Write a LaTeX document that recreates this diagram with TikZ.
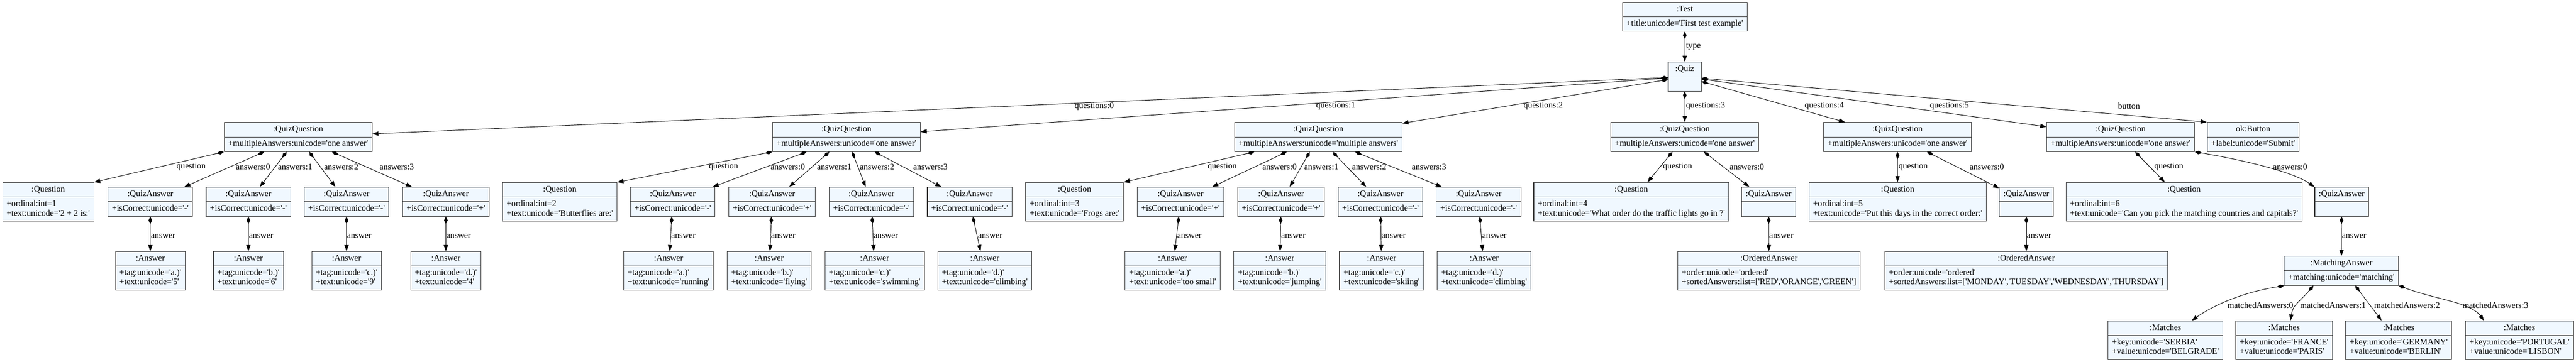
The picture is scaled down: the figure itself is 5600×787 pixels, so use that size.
\documentclass[tikz,border=0pt]{standalone}
\usepackage{fontspec}
\newfontfamily\dotfont{Liberation Serif}
\usetikzlibrary{shapes.multipart}
\usetikzlibrary{arrows.meta}
\usetikzlibrary{calc}
\definecolor{aliceblue}{RGB}{240,248,255}
\newcommand{\twolines}[2]{\begin{tabular}{@{}l@{}}#1\\#2\end{tabular}}

\begin{document}
\begin{tikzpicture}[x=0.75pt,y=-0.75pt,
  obj/.style={rectangle split, rectangle split parts=2,
    rectangle split part align={center,left},
    draw=black!80, line width=0.9pt, fill=aliceblue,
    inner xsep=6.5pt, inner ysep=3.7pt,
    font=\dotfont\fontsize{14pt}{15.5pt}\selectfont},
  comp/.style={line width=0.8pt,
    {Diamond[length=12pt,width=6pt]}-{Triangle[length=10pt,width=7pt]}},
  lbl/.style={anchor=west, inner sep=0pt,
    font=\dotfont\fontsize{14pt}{15.5pt}\selectfont}]
\useasboundingbox (0,0) rectangle (5600,787);

% test and quiz
\node[obj] (test) at (3662.5,36.5) {\strut:Test\nodepart{two}\strut+title:unicode='First test example'};
\node[obj, minimum width=54pt] (quiz) at (3662.5,167) {\strut:Quiz\nodepart{two}\strut};

% questions of the quiz
\node[obj] (qq1) at (648,298) {\strut:QuizQuestion\nodepart{two}\strut+multipleAnswers:unicode='one answer'};
\node[obj] (qq2) at (1840,298) {\strut:QuizQuestion\nodepart{two}\strut+multipleAnswers:unicode='one answer'};
\node[obj] (qq3) at (2866,298) {\strut:QuizQuestion\nodepart{two}\strut+multipleAnswers:unicode='multiple answers'};
\node[obj] (qq4) at (3662.5,298) {\strut:QuizQuestion\nodepart{two}\strut+multipleAnswers:unicode='one answer'};
\node[obj] (qq5) at (4125,298) {\strut:QuizQuestion\nodepart{two}\strut+multipleAnswers:unicode='one answer'};
\node[obj] (qq6) at (4610,298) {\strut:QuizQuestion\nodepart{two}\strut+multipleAnswers:unicode='one answer'};
\node[obj] (btn) at (4898,298) {\strut ok:Button\nodepart{two}\strut+label:unicode='Submit'};

% question texts and quiz answers
\node[obj] (q1) at (104.8,439) {\strut:Question\nodepart{two}\twolines{+ordinal:int=1}{+text:unicode='2 + 2 is:'}};
\node[obj] (qa1a) at (326.8,439) {\strut:QuizAnswer\nodepart{two}\strut+isCorrect:unicode='-'};
\node[obj] (qa1b) at (540,439) {\strut:QuizAnswer\nodepart{two}\strut+isCorrect:unicode='-'};
\node[obj] (qa1c) at (753.3,439) {\strut:QuizAnswer\nodepart{two}\strut+isCorrect:unicode='-'};
\node[obj] (qa1d) at (969.3,439) {\strut:QuizAnswer\nodepart{two}\strut+isCorrect:unicode='+'};
\node[obj] (q2) at (1217,439) {\strut:Question\nodepart{two}\twolines{+ordinal:int=2}{+text:unicode='Butterflies are:'}};
\node[obj] (qa2a) at (1462.4,439) {\strut:QuizAnswer\nodepart{two}\strut+isCorrect:unicode='-'};
\node[obj] (qa2b) at (1678.5,439) {\strut:QuizAnswer\nodepart{two}\strut+isCorrect:unicode='+'};
\node[obj] (qa2c) at (1894.5,439) {\strut:QuizAnswer\nodepart{two}\strut+isCorrect:unicode='-'};
\node[obj] (qa2d) at (2108,439) {\strut:QuizAnswer\nodepart{two}\strut+isCorrect:unicode='-'};
\node[obj] (q3) at (2336,439) {\strut:Question\nodepart{two}\twolines{+ordinal:int=3}{+text:unicode='Frogs are:'}};
\node[obj] (qa3a) at (2566.3,439) {\strut:QuizAnswer\nodepart{two}\strut+isCorrect:unicode='+'};
\node[obj] (qa3b) at (2785,439) {\strut:QuizAnswer\nodepart{two}\strut+isCorrect:unicode='+'};
\node[obj] (qa3c) at (3001,439) {\strut:QuizAnswer\nodepart{two}\strut+isCorrect:unicode='-'};
\node[obj] (qa3d) at (3214.4,439) {\strut:QuizAnswer\nodepart{two}\strut+isCorrect:unicode='-'};
\node[obj] (q4) at (3546.3,439) {\strut:Question\nodepart{two}\twolines{+ordinal:int=4}{+text:unicode='What order do the traffic lights go in ?'}};
\node[obj] (qa4) at (3844.8,439) {\strut:QuizAnswer\nodepart{two}\strut};
\node[obj] (q5) at (4125.2,439) {\strut:Question\nodepart{two}\twolines{+ordinal:int=5}{+text:unicode='Put this days in the correct order:'}};
\node[obj] (qa5) at (4405,439) {\strut:QuizAnswer\nodepart{two}\strut};
\node[obj] (q6) at (4747.8,439) {\strut:Question\nodepart{two}\twolines{+ordinal:int=6}{+text:unicode='Can you pick the matching countries and capitals?'}};
\node[obj] (qa6) at (5090.5,439) {\strut:QuizAnswer\nodepart{two}\strut};

% answers
\node[obj] (an1a) at (326.8,589) {\strut:Answer\nodepart{two}\twolines{+tag:unicode='a.)'}{+text:unicode='5'}};
\node[obj] (an1b) at (539.9,589) {\strut:Answer\nodepart{two}\twolines{+tag:unicode='b.)'}{+text:unicode='6'}};
\node[obj] (an1c) at (753.4,589) {\strut:Answer\nodepart{two}\twolines{+tag:unicode='c.)'}{+text:unicode='9'}};
\node[obj] (an1d) at (969.2,589) {\strut:Answer\nodepart{two}\twolines{+tag:unicode='d.)'}{+text:unicode='4'}};
\node[obj] (an2a) at (1453.3,589) {\strut:Answer\nodepart{two}\twolines{+tag:unicode='a.)'}{+text:unicode='running'}};
\node[obj] (an2b) at (1672,589) {\strut:Answer\nodepart{two}\twolines{+tag:unicode='b.)'}{+text:unicode='flying'}};
\node[obj] (an2c) at (1901.3,589) {\strut:Answer\nodepart{two}\twolines{+tag:unicode='c.)'}{+text:unicode='swimming'}};
\node[obj] (an2d) at (2140.8,589) {\strut:Answer\nodepart{two}\twolines{+tag:unicode='d.)'}{+text:unicode='climbing'}};
\node[obj] (an3a) at (2549,589) {\strut:Answer\nodepart{two}\twolines{+tag:unicode='a.)'}{+text:unicode='too small'}};
\node[obj] (an3b) at (2782,589) {\strut:Answer\nodepart{two}\twolines{+tag:unicode='b.)'}{+text:unicode='jumping'}};
\node[obj] (an3c) at (3003.5,589) {\strut:Answer\nodepart{two}\twolines{+tag:unicode='c.)'}{+text:unicode='skiing'}};
\node[obj] (an3d) at (3226.4,589) {\strut:Answer\nodepart{two}\twolines{+tag:unicode='d.)'}{+text:unicode='climbing'}};
\node[obj] (oa4) at (3845.5,589) {\strut:OrderedAnswer\nodepart{two}\twolines{+order:unicode='ordered'}{+sortedAnswers:list=['RED','ORANGE','GREEN']}};
\node[obj] (oa5) at (4405,589) {\strut:OrderedAnswer\nodepart{two}\twolines{+order:unicode='ordered'}{+sortedAnswers:list=['MONDAY','TUESDAY','WEDNESDAY','THURSDAY']}};
\node[obj] (ma6) at (5090,589) {\strut:MatchingAnswer\nodepart{two}\strut+matching:unicode='matching'};

% matches
\node[obj] (mt1) at (4707.5,740) {\strut:Matches\nodepart{two}\twolines{+key:unicode='SERBIA'}{+value:unicode='BELGRADE'}};
\node[obj] (mt2) at (4965.4,740) {\strut:Matches\nodepart{two}\twolines{+key:unicode='FRANCE'}{+value:unicode='PARIS'}};
\node[obj] (mt3) at (5214.5,740) {\strut:Matches\nodepart{two}\twolines{+key:unicode='GERMANY'}{+value:unicode='BERLIN'}};
\node[obj] (mt4) at (5477,740) {\strut:Matches\nodepart{two}\twolines{+key:unicode='PORTUGAL'}{+value:unicode='LISBON'}};

% compositions
\draw[comp] (test) -- (quiz);
\draw[comp] (quiz) -- (qq1);
\draw[comp] (quiz) -- (qq2);
\draw[comp] (quiz) -- (qq3);
\draw[comp] (quiz) -- (qq4);
\draw[comp] (quiz) -- (qq5);
\draw[comp] (quiz) -- (qq6);
\draw[comp] (quiz) -- (btn.north west);

\draw[comp] (qq1.south west) -- (q1.north east);
\draw[comp] (qq1) -- (qa1a);
\draw[comp] (qq1) -- (qa1b);
\draw[comp] (qq1) -- (qa1c);
\draw[comp] (qq1) -- (qa1d);
\draw[comp] (qq2.south west) -- (q2.north east);
\draw[comp] (qq2) -- (qa2a);
\draw[comp] (qq2) -- (qa2b);
\draw[comp] (qq2) -- (qa2c);
\draw[comp] (qq2) -- (qa2d);
\draw[comp] (qq3) -- (q3.north east);
\draw[comp] (qq3) -- (qa3a);
\draw[comp] (qq3) -- (qa3b);
\draw[comp] (qq3) -- (qa3c);
\draw[comp] (qq3) -- (qa3d);
\draw[comp] (qq4) -- (q4);
\draw[comp] (qq4) -- (qa4);
\draw[comp] (qq5) -- (q5);
\draw[comp] (qq5) -- (qa5);
\draw[comp] (qq6) -- (q6);
\draw[comp] (qq6.south east) .. controls +(90,15) and +(-50,-35) .. (qa6.north west);

\draw[comp] (qa1a) -- (an1a);
\draw[comp] (qa1b) -- (an1b);
\draw[comp] (qa1c) -- (an1c);
\draw[comp] (qa1d) -- (an1d);
\draw[comp] (qa2a) -- (an2a);
\draw[comp] (qa2b) -- (an2b);
\draw[comp] (qa2c) -- (an2c);
\draw[comp] (qa2d) -- (an2d);
\draw[comp] (qa3a) -- (an3a);
\draw[comp] (qa3b) -- (an3b);
\draw[comp] (qa3c) -- (an3c);
\draw[comp] (qa3d) -- (an3d);
\draw[comp] (qa4) -- (oa4);
\draw[comp] (qa5) -- (oa5);
\draw[comp] (qa6) -- (ma6);

\draw[comp] (ma6.south west) .. controls +(-90,15) and +(50,-35) .. ($(mt1.north)+(57,0)$);
\draw[comp] ($(ma6.south west)+(64,0)$) .. controls +(-30,35) and +(5,-35) .. ($(mt2.north)+(14,0)$);
\draw[comp] ($(ma6.south)+(30,0)$) -- ($(mt3.north)+(-37,0)$);
\draw[comp] (ma6.south east) .. controls +(80,30) and +(-30,-40) .. ($(mt4.north)+(-77,0)$);

% labels
\node[lbl] (ltype) at (3665,102) {type};
\node[lbl] (lq0) at (2336,231) {questions:0};
\node[lbl] (lq1) at (2861,231) {questions:1};
\node[lbl] (lq2) at (3312,231) {questions:2};
\node[lbl] (lq3) at (3665,231) {questions:3};
\node[lbl] (lq4) at (3923,231) {questions:4};
\node[lbl] (lq5) at (4195,231) {questions:5};
\node[lbl] (lbtn) at (4604,231) {button};

\node[lbl] (l1q) at (383.5,363) {question};
\node[lbl] (l1a) at (512.6,363) {answers:0};
\node[lbl] (l1b) at (604,363) {answers:1};
\node[lbl] (l1c) at (704.3,363) {answers:2};
\node[lbl] (l1d) at (825,363) {answers:3};
\node[lbl] (l2q) at (1541,363) {question};
\node[lbl] (l2a) at (1675,363) {answers:0};
\node[lbl] (l2b) at (1776,363) {answers:1};
\node[lbl] (l2c) at (1869,363) {answers:2};
\node[lbl] (l2d) at (1985,363) {answers:3};
\node[lbl] (l3q) at (2625,363) {question};
\node[lbl] (l3a) at (2744,363) {answers:0};
\node[lbl] (l3b) at (2835,363) {answers:1};
\node[lbl] (l3c) at (2939,363) {answers:2};
\node[lbl] (l3d) at (3069,363) {answers:3};
\node[lbl] (l4q) at (3615,363) {question};
\node[lbl] (l4a) at (3760,363) {answers:0};
\node[lbl] (l5q) at (4127,363) {question};
\node[lbl] (l5a) at (4281.6,363) {answers:0};
\node[lbl] (l6q) at (4683,363) {question};
\node[lbl] (l6a) at (4941,363) {answers:0};

\node[lbl] (k1a) at (328,514) {answer};
\node[lbl] (k1b) at (541,514) {answer};
\node[lbl] (k1c) at (754.3,514) {answer};
\node[lbl] (k1d) at (970.3,514) {answer};
\node[lbl] (k2a) at (1459,514) {answer};
\node[lbl] (k2b) at (1676,514) {answer};
\node[lbl] (k2c) at (1899,514) {answer};
\node[lbl] (k2d) at (2126,514) {answer};
\node[lbl] (k3a) at (2559,514) {answer};
\node[lbl] (k3b) at (2785,514) {answer};
\node[lbl] (k3c) at (3003,514) {answer};
\node[lbl] (k3d) at (3222,514) {answer};
\node[lbl] (k4) at (3846,514) {answer};
\node[lbl] (k5) at (4406,514) {answer};
\node[lbl] (k6) at (5091,514) {answer};

\node[lbl] (lm0) at (4842,664) {matchedAnswers:0};
\node[lbl] (lm1) at (5000,664) {matchedAnswers:1};
\node[lbl] (lm2) at (5161,664) {matchedAnswers:2};
\node[lbl] (lm3) at (5353,664) {matchedAnswers:3};
\end{tikzpicture}
\end{document}
